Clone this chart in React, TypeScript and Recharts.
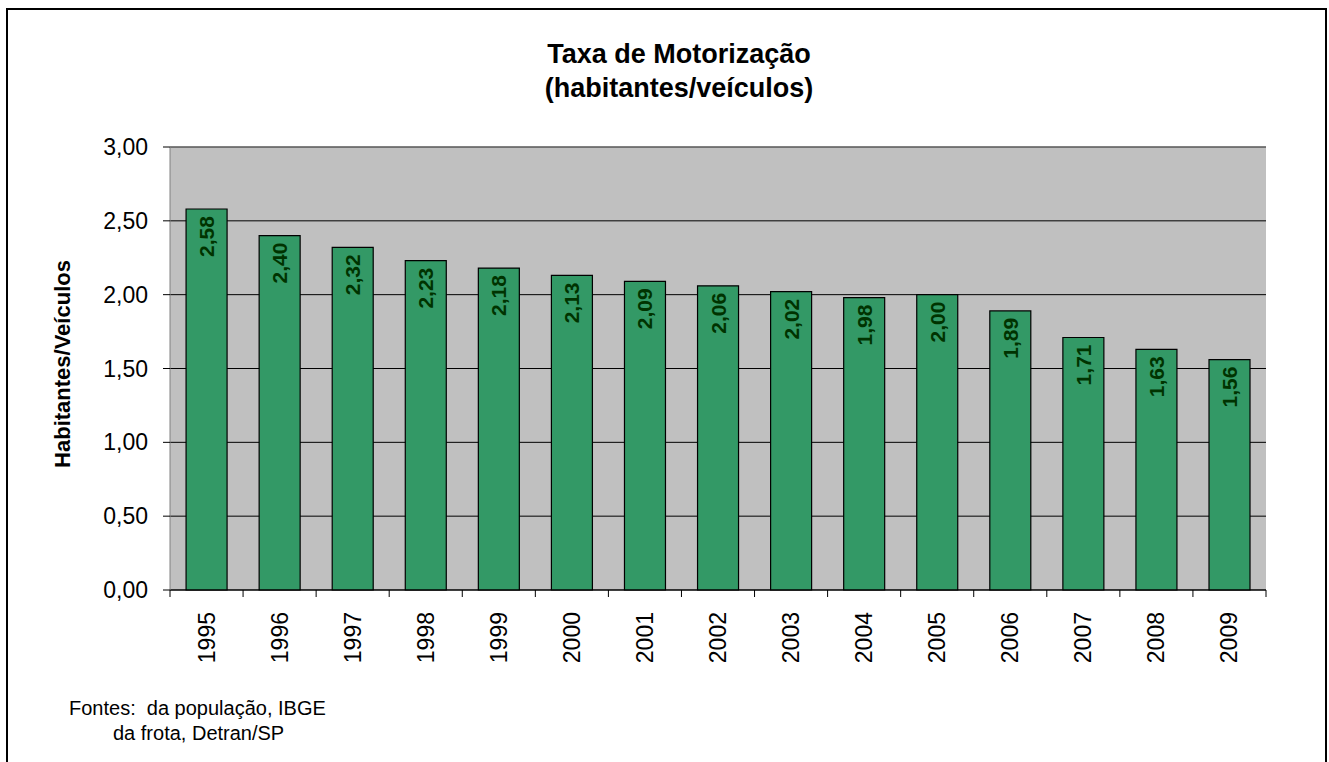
import React from 'react';
import { BarChart, Bar, XAxis, YAxis, CartesianGrid, LabelList, ReferenceLine } from 'recharts';

const categories = ['1995', '1996', '1997', '1998', '1999', '2000', '2001', '2002', '2003', '2004', '2005', '2006', '2007', '2008', '2009'];
const values = [2.58, 2.40, 2.32, 2.23, 2.18, 2.13, 2.09, 2.06, 2.02, 1.98, 2.00, 1.89, 1.71, 1.63, 1.56];
const yTicks = [0, 0.5, 1, 1.5, 2, 2.5, 3];
const titleLines = ['Taxa de Motorização', '(habitantes/veículos)'];
const yAxisTitle = 'Habitantes/Veículos';
const footLines = ['Fontes:  da população, IBGE', 'da frota, Detran/SP'];

const data = categories.map((year, i) => ({ year, value: values[i] }));

const FONT = "'Liberation Sans', Arial, Helvetica, sans-serif";
const W = 1329;
const H = 762;
const PLOT_LEFT = 170;
const PLOT_RIGHT = 1266;
const PLOT_TOP = 147;
const PLOT_BOTTOM = 590;
const BAND = (PLOT_RIGHT - PLOT_LEFT) / categories.length;

const fmt = (v: number) => v.toFixed(2).replace('.', ',');

const XTick = (props: any) => {
  const { x, y, payload, index } = props;
  const ly = y + 22;
  const idx = typeof index === 'number' ? index : payload?.index ?? 0;
  return (
    <g>
      <line x1={x - BAND / 2} y1={y} x2={x - BAND / 2} y2={y + 7} stroke="#000" strokeWidth={1} />
      {idx === categories.length - 1 && (
        <line x1={x + BAND / 2} y1={y} x2={x + BAND / 2} y2={y + 7} stroke="#000" strokeWidth={1} />
      )}
      <text
        x={x}
        y={ly}
        transform={`rotate(-90, ${x}, ${ly})`}
        textAnchor="end"
        dominantBaseline="central"
        fontFamily={FONT}
        fontSize={23}
        fill="#000"
      >
        {payload.value}
      </text>
    </g>
  );
};

const BarLabel = (props: any) => {
  const x = props.x ?? props.viewBox?.x;
  const y = props.y ?? props.viewBox?.y;
  const width = props.width ?? props.viewBox?.width;
  const cx = x + width / 2;
  const ty = y + 7;
  return (
    <text
      x={cx}
      y={ty}
      transform={`rotate(-90, ${cx}, ${ty})`}
      textAnchor="end"
      dominantBaseline="central"
      fontFamily={FONT}
      fontSize={21}
      fontWeight="bold"
      fill="#003300"
    >
      {fmt(Number(props.value))}
    </text>
  );
};

export default function App() {
  return (
    <div style={{ position: 'absolute', left: 0, top: 0, width: W, height: H, overflow: 'hidden', background: '#fff', fontFamily: FONT }}>
      <div
        style={{
          position: 'absolute',
          left: 6,
          top: 8,
          width: 1321,
          height: 800,
          border: '2px solid #000',
          boxSizing: 'border-box',
        }}
      />
      <div style={{ position: 'absolute', left: 0, top: 0 }}>
        <BarChart
          width={W}
          height={H}
          data={data}
          margin={{ top: PLOT_TOP, right: W - PLOT_RIGHT, bottom: H - PLOT_BOTTOM - 80, left: PLOT_LEFT - 100 }}
          barCategoryGap="22%"
        >
          <CartesianGrid vertical={false} stroke="#000" fill="#C0C0C0" fillOpacity={1} />
          <XAxis
            dataKey="year"
            height={80}
            interval={0}
            axisLine={{ stroke: '#000', strokeWidth: 1 }}
            tickLine={false}
            tickSize={0}
            tickMargin={0}
            tick={<XTick />}
          />
          <YAxis
            width={100}
            domain={[0, 3]}
            ticks={yTicks}
            interval={0}
            tickFormatter={fmt}
            tickSize={7}
            tickMargin={15}
            axisLine={{ stroke: '#808080', strokeWidth: 1 }}
            tickLine={{ stroke: '#000', strokeWidth: 1 }}
            tick={{ fill: '#000', fontSize: 23, fontFamily: FONT }}
          />
          <YAxis
            yAxisId="right"
            orientation="right"
            width={0}
            domain={[0, 3]}
            tick={false}
            tickLine={false}
            axisLine={{ stroke: '#808080', strokeWidth: 1 }}
          />
          <ReferenceLine y={3} stroke="#808080" strokeWidth={1} />
          <Bar dataKey="value" fill="#339966" stroke="#000" strokeWidth={1.2} isAnimationActive={false}>
            <LabelList dataKey="value" content={<BarLabel />} />
          </Bar>
        </BarChart>
      </div>
      <svg width={W} height={H} style={{ position: 'absolute', left: 0, top: 0, pointerEvents: 'none' }}>
        <text x={679} y={63} textAnchor="middle" fontFamily={FONT} fontSize={27} fontWeight="bold" fill="#000">
          {titleLines[0]}
        </text>
        <text x={679} y={97} textAnchor="middle" fontFamily={FONT} fontSize={27} fontWeight="bold" fill="#000">
          {titleLines[1]}
        </text>
        <text
          x={62}
          y={364}
          transform="rotate(-90, 62, 364)"
          textAnchor="middle"
          dominantBaseline="central"
          fontFamily={FONT}
          fontSize={22}
          fontWeight="bold"
          fill="#000"
        >
          {yAxisTitle}
        </text>
        <text x={69} y={715} fontFamily={FONT} fontSize={20} fill="#000" style={{ whiteSpace: 'pre' }}>
          {footLines[0]}
        </text>
        <text x={113} y={740} fontFamily={FONT} fontSize={20} fill="#000">
          {footLines[1]}
        </text>
      </svg>
    </div>
  );
}
